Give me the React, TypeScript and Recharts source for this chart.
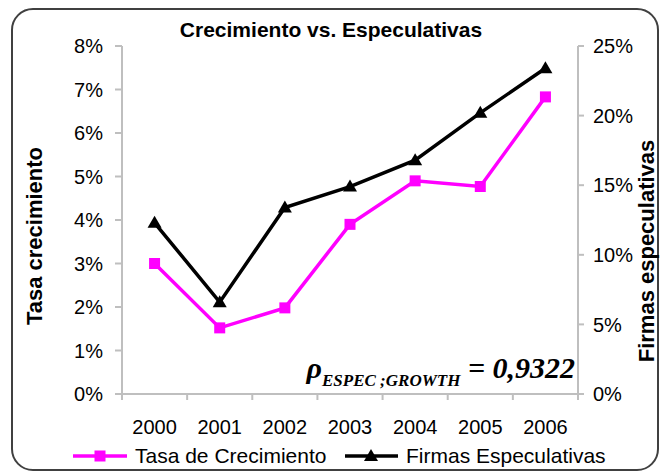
import { LineChart, Line, XAxis, YAxis } from 'recharts';

const years = ['2000', '2001', '2002', '2003', '2004', '2005', '2006'];
const tasaCrecimiento = [3.0, 1.52, 1.98, 3.9, 4.9, 4.77, 6.83];
const firmasEspeculativas = [12.3, 6.6, 13.4, 14.9, 16.8, 20.2, 23.4];
const leftTicks = [0, 1, 2, 3, 4, 5, 6, 7, 8];
const rightTicks = [0, 5, 10, 15, 20, 25];

const data = years.map((year, i) => ({
  year,
  tasa: tasaCrecimiento[i],
  firmas: firmasEspeculativas[i],
}));

const AXIS = '#bfbfbf';
const SANS = '"Liberation Sans", Arial, sans-serif';
const SERIF = '"Liberation Serif", "Times New Roman", serif';
const TICK_MARGIN = 26;

// plot spans x 122..578 in the reference
const BAND = (578 - 122) / years.length;

const YearTick = (props: any) => {
  const { x, y, payload, index } = props;
  const y0 = y - TICK_MARGIN;
  return (
    <g>
      <line x1={x - BAND / 2} x2={x - BAND / 2} y1={y0} y2={y0 + 6} stroke={AXIS} strokeWidth={2} />
      {index === years.length - 1 && (
        <line x1={x + BAND / 2} x2={x + BAND / 2} y1={y0} y2={y0 + 6} stroke={AXIS} strokeWidth={2} />
      )}
      <text x={x} y={y} dy="0.71em" textAnchor="middle" fill="#000" fontSize={20} fontFamily={SANS}>
        {payload.value}
      </text>
    </g>
  );
};

const SquareDot = (props: any) => {
  const { cx, cy, index } = props;
  return <rect key={`sq-${index}`} x={cx - 5.5} y={cy - 5.5} width={11} height={11} fill="#ff00ff" />;
};

const TriangleDot = (props: any) => {
  const { cx, cy, index } = props;
  return (
    <polygon
      key={`tr-${index}`}
      points={`${cx},${cy - 7} ${cx + 7},${cy + 5} ${cx - 7},${cy + 5}`}
      fill="#000"
    />
  );
};

export default function App() {
  return (
    <div style={{ position: 'absolute', left: 0, top: 0, width: 660, height: 472, overflow: 'hidden', background: '#fff' }}>
      <div
        style={{
          position: 'absolute',
          left: 11,
          top: 8,
          width: 648,
          height: 463,
          boxSizing: 'border-box',
          border: '2px solid #404040',
          borderRadius: 22,
        }}
      />
      <LineChart
        width={660}
        height={472}
        data={data}
        margin={{ top: 46, right: 22, left: 60, bottom: 38 }}
        style={{ position: 'absolute', left: 0, top: 0 }}
      >
        <XAxis
          dataKey="year"
          scale="band"
          height={40}
          stroke={AXIS}
          axisLine={{ stroke: AXIS, strokeWidth: 2 }}
          tickLine={false}
          tickSize={0}
          tickMargin={TICK_MARGIN}
          tick={<YearTick />}
          interval={0}
        />
        <YAxis
          yAxisId="left"
          width={62}
          domain={[0, 8]}
          ticks={leftTicks}
          tickFormatter={(v) => `${v}%`}
          axisLine={{ stroke: AXIS, strokeWidth: 2 }}
          tickLine={{ stroke: AXIS, strokeWidth: 2 }}
          tickSize={7}
          tickMargin={12}
          tick={{ fill: '#000', fontSize: 20, fontFamily: SANS }}
          interval={0}
        />
        <YAxis
          yAxisId="right"
          orientation="right"
          width={60}
          domain={[0, 25]}
          ticks={rightTicks}
          tickFormatter={(v) => `${v}%`}
          axisLine={{ stroke: AXIS, strokeWidth: 2 }}
          tickLine={{ stroke: AXIS, strokeWidth: 2 }}
          tickSize={6}
          tickMargin={9}
          tick={{ fill: '#000', fontSize: 20, fontFamily: SANS }}
          interval={0}
        />
        <Line
          yAxisId="left"
          dataKey="tasa"
          type="linear"
          stroke="#ff00ff"
          strokeWidth={3.5}
          dot={SquareDot}
          activeDot={false}
          isAnimationActive={false}
        />
        <Line
          yAxisId="right"
          dataKey="firmas"
          type="linear"
          stroke="#000"
          strokeWidth={3.5}
          dot={TriangleDot}
          activeDot={false}
          isAnimationActive={false}
        />
      </LineChart>
      <svg width={660} height={472} style={{ position: 'absolute', left: 0, top: 0, pointerEvents: 'none' }}>
        <text x={331} y={37} textAnchor="middle" fontFamily={SANS} fontWeight="bold" fontSize={21}>
          Crecimiento vs. Especulativas
        </text>
        <text
          x={0}
          y={0}
          transform="translate(42, 236) rotate(-90)"
          textAnchor="middle"
          fontFamily={SANS}
          fontWeight="bold"
          fontSize={22}
        >
          Tasa crecimiento
        </text>
        <text
          x={0}
          y={0}
          transform="translate(654, 251) rotate(-90)"
          textAnchor="middle"
          fontFamily={SANS}
          fontWeight="bold"
          fontSize={22}
        >
          Firmas especulativas
        </text>
        <text x={575} y={378} textAnchor="end" fontFamily={SERIF} fontWeight="bold" fontStyle="italic">
          <tspan fontSize={30}>ρ</tspan>
          <tspan fontSize={17} dy={8}>ESPEC ;GROWTH</tspan>
          <tspan fontSize={30} dy={-8}> = 0,9322</tspan>
        </text>
        {/* legend */}
        <line x1={73} x2={127} y1={456} y2={456} stroke="#ff00ff" strokeWidth={3.5} />
        <rect x={94.5} y={450.5} width={11} height={11} fill="#ff00ff" />
        <text x={135} y={463} fontFamily={SANS} fontSize={21}>Tasa de Crecimiento</text>
        <line x1={345} x2={398} y1={456} y2={456} stroke="#000" strokeWidth={3.5} />
        <polygon points="371,449 378,461 364,461" fill="#000" />
        <text x={406} y={463} fontFamily={SANS} fontSize={21}>Firmas Especulativas</text>
      </svg>
    </div>
  );
}
